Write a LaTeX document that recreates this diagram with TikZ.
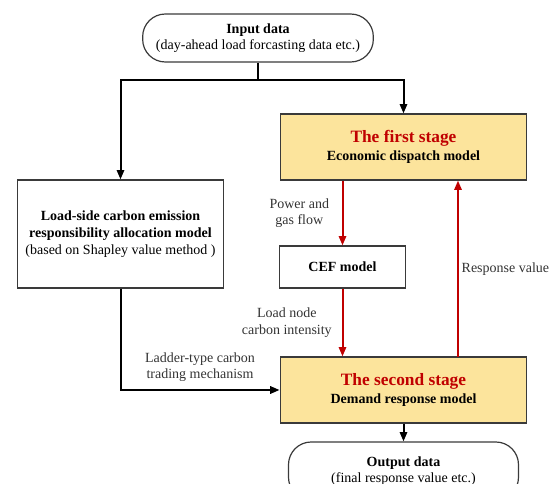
\documentclass[tikz,border=0pt]{standalone}
\usepackage{fontspec}
\setmainfont{Liberation Serif}
\usetikzlibrary{arrows.meta}
\definecolor{stagefill}{HTML}{FCE49C}
\definecolor{stagered}{HTML}{C00000}
\definecolor{boxline}{HTML}{3A3A3A}
\tikzset{
  box/.style={draw=boxline,line width=0.9pt,align=center,inner sep=2pt,font=\fontsize{10.5}{12.5}\selectfont},
  stagebox/.style={box,fill=stagefill,minimum width=185pt,minimum height=49.5pt},
  terminal/.style={box,rounded corners=17pt},
  flow/.style={line width=1.5pt,-{Triangle[length=7pt,width=5.5pt]}},
  redflow/.style={flow,draw=stagered,color=stagered},
  lbl/.style={align=center,font=\fontsize{10.5}{12.5}\selectfont,text=black!80}
}
\newcommand{\stagetitle}[1]{{\fontsize{13}{15}\selectfont\bfseries\color{stagered}#1}}
\begin{document}
\begin{tikzpicture}[x=0.75pt,y=-0.75pt]
    \useasboundingbox (0,0) rectangle (554,484);
    % terminals
    \node[terminal,minimum width=173pt,minimum height=36pt] (inp) at (258,38)
        {\textbf{Input data}\\(day-ahead load forcasting data etc.)};
    \node[terminal,minimum width=172.5pt,minimum height=43.5pt] (outp) at (403.5,471)
        {\textbf{Output data}\\(final response value etc.)};
    % models
    \node[stagebox] (first) at (403.5,147) {\stagetitle{The first stage}\\[1pt]\textbf{Economic dispatch model}};
    \node[stagebox] (second) at (403.5,390) {\stagetitle{The second stage}\\[1pt]\textbf{Demand response model}};
    \node[box,minimum width=94pt,minimum height=31.5pt] (cef) at (342.5,267) {\textbf{CEF model}};
    \node[box,minimum width=155pt,minimum height=81pt] (alloc) at (120.5,234)
        {\textbf{Load-side carbon emission}\\\textbf{responsibility allocation model}\\(based on Shapley value method )};
    % black connectors
    \coordinate (split) at (258,80);
    \draw[line width=1.5pt] (inp.south) -- (split);
    \draw[flow] (split) -| (alloc.north);
    \draw[flow] (split) -| (first.north);
    \draw[flow] (alloc.south) |- (second.west) node[lbl,pos=0.75,above=2pt] {Ladder-type carbon\\trading mechanism};
    \draw[flow] (second.south) -- (outp.north);
    % red connectors
    \draw[redflow] (first.south -| cef.north) -- (cef.north) node[lbl,midway,left=6pt] {Power and\\gas flow};
    \draw[redflow] (cef.south) -- (second.north -| cef.south) node[lbl,midway,left=4pt] {Load node\\carbon intensity};
    \coordinate (back) at (458,357);
    \draw[redflow] (back) -- (back |- first.south) node[lbl,midway,right=1pt,inner sep=1pt] {Response value};
\end{tikzpicture}
\end{document}
